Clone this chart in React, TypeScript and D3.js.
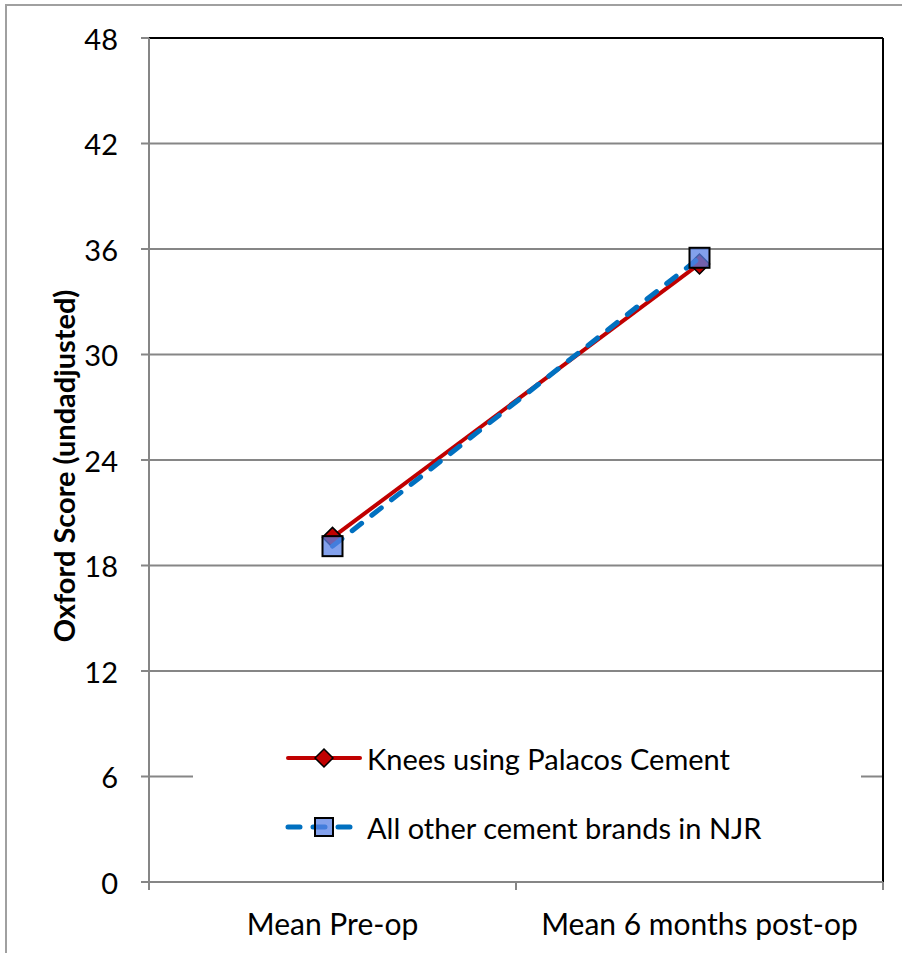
import { useMemo } from "react";
import * as d3 from "d3";

const categories = ["Mean Pre-op", "Mean 6 months post-op"];
const palacos = [19.6, 35.15];
const others = [19.1, 35.5];
const yTicks = [0, 6, 12, 18, 24, 30, 36, 42, 48];
const seriesNames = ["Knees using Palacos Cement", "All other cement brands in NJR"];

const W = 902;
const H = 953;
const FONT = "Lato, 'Open Sans', sans-serif";

export default function App() {
  const margin = { left: 149, top: 38, right: 902 - 883, bottom: 953 - 882 };
  const innerW = W - margin.left - margin.right;
  const innerH = H - margin.top - margin.bottom;

  const x = useMemo(
    () => d3.scaleBand<string>().domain(categories).range([0, innerW]).padding(0),
    [innerW],
  );
  const y = useMemo(() => d3.scaleLinear().domain([0, 48]).range([innerH, 0]), [innerH]);

  const cx = (c: string) => (x(c) ?? 0) + x.bandwidth() / 2;

  const line = d3
    .line<[string, number]>()
    .x((d) => cx(d[0]))
    .y((d) => y(d[1]));

  const redPts = categories.map((c, i) => [c, palacos[i]] as [string, number]);
  const bluePts = categories.map((c, i) => [c, others[i]] as [string, number]);

  const diamond = (px: number, py: number, r: number) =>
    `M${px},${py - r}L${px + r},${py}L${px},${py + r}L${px - r},${py}Z`;

  // legend placement (inside plot, white box hides gridline)
  const legX = 193 - margin.left;
  const legY = 725 - margin.top;
  const legW = 861 - 193;
  const legH = 130;
  const row1 = 758 - margin.top;
  const row2 = 827 - margin.top;
  const symX0 = 288 - margin.left;
  const symX1 = 360 - margin.left;
  const symC = 324 - margin.left;
  const textX = 367 - margin.left;

  return (
    <svg
      width={W}
      height={H}
      style={{ position: "absolute", left: 0, top: 0, background: "#fff" }}
      fontFamily={FONT}
    >
      {/* outer frame */}
      <rect x={6} y={5} width={W + 10} height={H + 10} fill="#fff" stroke="#a0a0a0" strokeWidth={2} />

      <g transform={`translate(${margin.left},${margin.top})`}>
        {/* gridlines */}
        {yTicks.map((t) => (
          <line key={t} x1={-8} x2={innerW} y1={y(t)} y2={y(t)} stroke="#868686" strokeWidth={2} />
        ))}

        {/* legend background */}
        <rect x={legX} y={legY} width={legW} height={legH} fill="#fff" />

        {/* plot border: top + right black */}
        <line x1={0} x2={innerW} y1={0} y2={0} stroke="#000" strokeWidth={2} />
        <line x1={innerW} x2={innerW} y1={0} y2={innerH} stroke="#000" strokeWidth={2} />

        {/* axes */}
        <line x1={0} x2={0} y1={0} y2={innerH} stroke="#868686" strokeWidth={2} />
        <line x1={0} x2={innerW} y1={innerH} y2={innerH} stroke="#868686" strokeWidth={2} />
        {[0, 1, 2].map((i) => (
          <line
            key={i}
            x1={i * x.bandwidth()}
            x2={i * x.bandwidth()}
            y1={innerH}
            y2={innerH + 8}
            stroke="#868686"
            strokeWidth={2}
          />
        ))}

        {/* y tick labels */}
        {yTicks.map((t) => (
          <text
            key={t}
            x={-31}
            y={y(t)}
            fontSize={29}
            textAnchor="end"
            dominantBaseline="central"
            fill="#000"
          >
            {t}
          </text>
        ))}

        {/* x labels */}
        {categories.map((c) => (
          <text key={c} x={cx(c)} y={innerH + 53} fontSize={30} textAnchor="middle" fill="#000">
            {c}
          </text>
        ))}

        {/* y axis title */}
        <text
          transform={`translate(${63 - margin.left},${466 - margin.top}) rotate(-90)`}
          fontSize={29}
          fontWeight={700}
          textAnchor="middle"
          dominantBaseline="central"
          fill="#000"
        >
          Oxford Score (undadjusted)
        </text>

        {/* red series */}
        <path d={line(redPts) ?? ""} fill="none" stroke="#C00000" strokeWidth={4} />
        {redPts.map((d, i) => (
          <path key={i} d={diamond(cx(d[0]), y(d[1]), 10)} fill="#C00000" stroke="#000" strokeWidth={1.5} />
        ))}

        {/* blue series */}
        <path
          d={line(bluePts) ?? ""}
          fill="none"
          stroke="#0070C0"
          strokeWidth={5}
          strokeDasharray="12 13"
          strokeLinecap="round"
        />
        {bluePts.map((d, i) => (
          <rect
            key={i}
            x={cx(d[0]) - 10}
            y={y(d[1]) - 10}
            width={20}
            height={20}
            fill="rgba(90,130,230,0.75)"
            stroke="#000"
            strokeWidth={2}
          />
        ))}

        {/* legend */}
        <line x1={symX0} x2={symX1} y1={row1} y2={row1} stroke="#C00000" strokeWidth={4} strokeLinecap="round" />
        <path d={diamond(symC, row1, 9)} fill="#C00000" stroke="#000" strokeWidth={1.5} />
        <text x={textX} y={row1} fontSize={29} dominantBaseline="central" fill="#000">
          {seriesNames[0]}
        </text>

        <line
          x1={symX0}
          x2={symX1 - 8}
          y1={row2}
          y2={row2}
          stroke="#0070C0"
          strokeWidth={5}
          strokeDasharray="12 13"
          strokeLinecap="round"
        />
        <rect x={symC - 9} y={row2 - 9} width={18} height={18} fill="rgba(90,130,230,0.75)" stroke="#000" strokeWidth={2} />
        <text x={textX} y={row2} fontSize={29} dominantBaseline="central" fill="#000">
          {seriesNames[1]}
        </text>
      </g>
    </svg>
  );
}
